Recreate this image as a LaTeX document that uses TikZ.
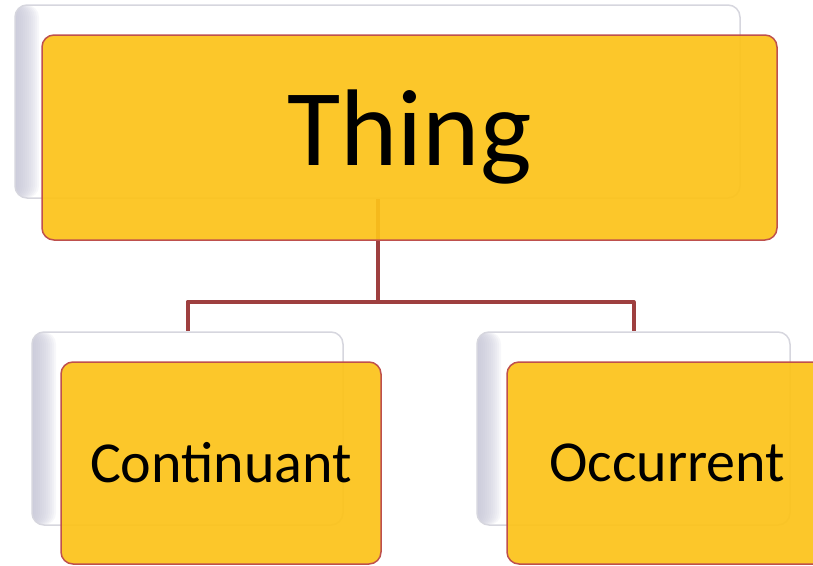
\documentclass[tikz,border=0pt]{standalone}
\usepackage{fontspec}
\setmainfont{Carlito}
\usepackage{xcolor}
\definecolor{boxyellow}{RGB}{252,195,26}
\definecolor{boxedge}{RGB}{190,80,77}
\definecolor{linkred}{RGB}{158,63,63}
\definecolor{backedge}{RGB}{214,214,222}
\definecolor{backshade}{RGB}{196,196,214}

\begin{document}
\begin{tikzpicture}[x=1pt,y=-1pt,
  back/.style={draw=backedge,line width=1.5pt,fill=white,rounded corners=12pt,
    inner sep=0pt,
    path picture={\foreach \i in {0,...,11}
      \fill[backshade,opacity=0.12] (path picture bounding box.north west) rectangle
        ([xshift=2*\i pt+2pt]path picture bounding box.south west);}},
  front/.style={draw=boxedge,line width=1.5pt,fill=boxyellow,fill opacity=0.93,
    text opacity=1,rounded corners=12pt,inner sep=0pt,
    minimum width=320pt,minimum height=202pt},
  link/.style={draw=linkred,line width=4pt,line join=round}]
  \useasboundingbox (0,0) rectangle (813,565);
  \clip (0,0) rectangle (813,565);

  % top level
  \node[back,minimum width=725pt,minimum height=193pt] (thingback) at (377.5,101.5) {};
  \draw[link] (thingback.south) -- ++(0,103) coordinate (fork);
  \node[front,minimum width=735pt,minimum height=205pt] (thing) at (409.5,137.5)
    {\fontsize{109}{109}\selectfont Thing};

  % second level
  \node[back,minimum width=311pt,minimum height=193pt] (contback) at (187.5,428.5) {};
  \node[back,minimum width=313pt,minimum height=193pt] (occback) at (633.5,428.5) {};
  \draw[link] (fork) -| (contback.north);
  \draw[link] (fork) -| (occback.north);
  \node[front] (cont) at (221,463) {\fontsize{58}{58}\selectfont Continuant};
  \node[front] (occ) at (667,463) {\fontsize{58}{58}\selectfont Occurrent};
\end{tikzpicture}
\end{document}
